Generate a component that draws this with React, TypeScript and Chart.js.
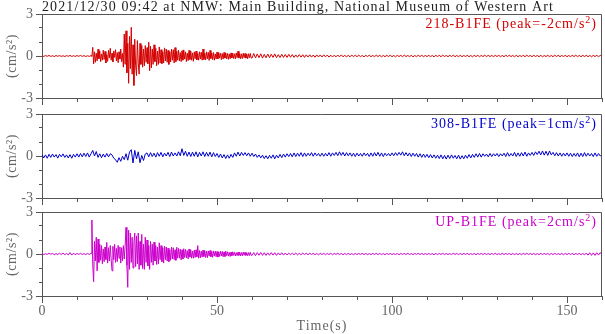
import { useEffect, useRef } from "react";
import { Chart, registerables } from "chart.js";

Chart.register(...registerables);

const titleText = "2021/12/30 09:42 at NMW: Main Building, National Museum of Western Art";
const xLabel = "Time(s)";
const yLabel = "(cm/s\u00B2)";
const xTickLabels = [0, 50, 100, 150];
const yTickLabels = [-3, 0, 3];

const redName = "218-B1FE (peak=-2cm/s";
const blueName = "308-B1FE (peak=1cm/s";
const magentaName = "UP-B1FE (peak=2cm/s";

// sampling: quiet lead-in every 0.5 s (0-13.5 s), strong motion every 0.25 s (14-59.75 s), tail every 0.5 s (60-160 s)
const leadStep = 0.5;
const activeStart = 14;
const activeStep = 0.25;
const tailStart = 60;
const tailStep = 0.5;

// 218-B1FE (cm/s^2)
const redLead = [
  .02,-.03,.03,-.02,.04,-.03,.02,-.04,.03,-.02,.03,-.03,.02,-.04,.03,-.02,.04,-.03,.02,-.03,
  .03,-.02,.04,-.03,.03,-.04,.02,-.03,
];
const redActive = [
  .03,-.02,.62,-.57, .3,-.45,.2,-.35, .48,-.2,.35,-.4, .15,-.3,.42,-.25, .33,-.5,.1,-.38,
  .4,-.15,.55,-.3, .2,-.42,.36,-.1, .45,-.35,.25,-.48, .3,-.22,.5,-.4, .18,-.8,1.57,-.6,
  1.8,-1.2,.9,-1.95, 1.4,-.9,2.05,-1.3, .8,-2.1,1.2,-.7, -1.4,1.1,-.5,-1.3, .9,-.6,.75,-.8,
  .5,-.7,.74,-.45, .6,-.55,.98,-1.05, .7,-.85,.5,-.6, .8,-.4,.55,-.7, .35,-.6,.65,-.5,
  .45,-.55,.3,-.5, .58,-.35,.5,-.45, .4,-.6,.3,-.42, .5,-.3,.45,-.5, .6,-.4,.35,-.3,
  .42,-.35,.25,-.4, .38,-.3,.44,-.22, .3,-.4,.2,-.33, .4,-.25,.35,-.3, .22,-.38,.3,-.2,
  .35,-.28,.18,-.3, .3,-.22,.28,-.3, .5,-.25,.2,-.28, .3,-.2,.26,-.32, .4,-.18,.22,-.26,
  .25,-.3,.15,-.22, .28,-.2,.24,-.15, .2,-.26,.18,-.22, .25,-.15,.22,-.2, .18,-.24,.15,-.2,
  .22,-.14,.2,-.18, .16,-.2,.22,-.12, .35,-.15,.18,-.2, .15,-.18,.2,-.12, .18,-.15,.14,-.2,
  .16,-.12,.18,-.14,
];
const redTail = [
  -.15,.18,-.14,.15,-.12,.16,-.15,.12,-.13,.14,-.12,.13,-.1,.15,-.12,.1,-.11,.12,-.1,.11,
  -.1,.12,-.09,.1,-.1,.08,-.09,.1,-.08,.09,-.1,.08,-.07,.09,-.08,.07,-.09,.08,-.07,.08,
  -.07,.08,-.06,.07,-.08,.06,-.07,.06,-.06,.07,-.06,.08,-.06,.06,-.07,.05,-.06,.07,-.05,.06,
  -.05,.06,-.05,.04,-.06,.05,-.04,.06,-.05,.04,-.05,.06,-.04,.05,-.06,.04,-.05,.05,-.04,.06,
  -.05,.04,-.06,.05,-.04,.05,-.05,.06,-.04,.04,-.05,.05,-.06,.04,-.05,.06,-.04,.05,-.05,.04,
  -.04,.05,-.05,.04,-.06,.05,-.04,.05,-.05,.06,-.04,.04,-.05,.05,-.04,.06,-.05,.04,-.05,.05,
  -.05,.04,-.04,.05,-.05,.04,-.06,.05,-.04,.05,-.05,.04,-.04,.06,-.05,.05,-.04,.04,-.05,.05,
  -.04,.05,-.05,.04,-.05,.06,-.04,.05,-.04,.04,-.06,.05,-.05,.04,-.04,.05,-.05,.06,-.04,.04,
  -.05,.05,-.04,.04,-.05,.05,-.06,.04,-.04,.05,-.05,.04,-.05,.06,-.04,.05,-.05,.04,-.04,.05,
  -.05,.04,-.05,.05,-.04,.06,-.05,.04,-.05,.05,-.04,.05,-.05,.04,-.06,.05,-.04,.05,-.05,.04,
  .03,
];

// 308-B1FE, every 0.5 s from 0 to 160 s
const blueValues = [
  .1,-.14,.08,-.16,.12,-.1,.14,-.08,.1,-.15,.12,-.06,.15,-.1,.08,-.14,.1,-.16,.12,-.08,
  .16,-.08,.18,-.06,.2,-.04,.22,-.08,.16,.4,.0,.32,-.1,.16,-.12,.14,-.08,.18,-.06,.16,
  .08,-.16,-.26,-.45,-.12,-.38,-.02,-.26,.16,-.3,.28,.45,-.5,.4,-.2,.3,-.48,.04,-.32,.14,
  .22,-.06,.24,-.04,.2,-.08,.24,-.02,.26,-.06,.2,.0,.26,-.04,.28,.0,.22,.0,.3,.02,
  .52,.04,.34,-.02,.28,-.04,.28,-.02,.3,-.06,.26,.0,.3,-.04,.26,-.02,.28,-.06,.24,-.04,
  .18,-.1,.14,-.14,.1,-.18,.08,-.16,.12,-.1,.22,-.02,.28,.0,.26,.04,.24,.02,.22,-.02,
  .2,-.04,.14,-.1,.08,-.14,.06,-.18,.02,-.2,.04,-.16,.08,-.2,.06,-.14,.12,-.12,.14,-.08,
  .16,-.04,.18,-.06,.22,-.04,.2,-.02,.24,-.04,.22,-.02,.2,.02,.24,-.02,.22,.02,.18,-.02,
  .2,-.02,.19,.0,.24,-.02,.22,.04,.26,.02,.3,.04,.26,.0,.24,.02,.22,-.02,.2,-.04,
  .2,.0,.18,-.02,.22,.02,.19,-.04,.22,-.02,.24,.0,.26,-.02,.22,-.04,.2,.02,.18,.0,
  .22,.02,.24,.04,.26,.06,.3,.02,.24,.0,.22,-.04,.2,-.02,.18,-.08,.16,-.1,.14,-.1,
  .12,-.12,.1,-.14,.08,-.16,.06,-.18,.08,-.2,.04,-.22,.06,-.18,.08,-.16,.04,-.2,.06,-.22,
  .02,-.2,.06,-.16,.1,-.14,.12,-.1,.16,-.08,.18,-.08,.16,-.02,.14,-.06,.18,-.04,.16,.0,
  .18,-.04,.16,.0,.2,-.04,.24,-.02,.18,.0,.26,-.04,.22,-.02,.24,.0,.28,-.02,.22,.04,
  .26,.04,.3,.1,.34,.08,.36,.06,.34,.04,.36,.08,.26,.02,.24,.0,.22,-.02,.2,.0,
  .22,-.02,.2,-.04,.18,-.02,.22,-.06,.2,-.04,.24,-.02,.2,.0,.18,-.04,.22,-.02,.18,.0,
  .1,
];

// UP-B1FE
const magentaLead = [
  .03,-.04,.02,-.03,.05,-.02,.04,-.05,.03,-.03,.05,-.04,.06,-.05,.04,-.06,.1,-.08,.06,-.05,
  .04,-.03,.05,-.04,.03,-.05,.04,-.03,
];
const magentaActive = [
  .05,2.43,-.8,-1.98, .9,-.5,1.2,-1.2, 1.07,-.6,.7,-.45, .6,-.7,.35,-.55, .5,-.4,.83,-.65,
  .45,-.5,.6,-.35, -1.2,.55,-.4,.7, -.6,.4,-.55,.62, -.3,.5,-.65,.45, -.5,.6,-.35,.55,
  1.9,-.8,-2.38,1.7, -1.1,1.5,-.6,1.2, -1.0,.8,1.5,-.9, 1.3,-.7,1.5,-1.1, .9,-.8,1.4,-1.05,
  .7,-1.1,1.2,-.6, 1.0,-.85,.6,-1.1, .9,-.6,.7,-.8, .85,-.5,.6,-.75, .5,-.7,.8,-.4,
  .6,-.55,.45,-.65, .55,-.4,.5,-.5, .42,-.55,.3,-.45, .5,-.35,.45,-.4, .3,-.45,.48,-.3,
  .4,-.3,.35,-.42, .3,-.35,.38,-.25, .32,-.28,.25,-.35, .35,-.22,.3,-.3, .2,-.3,.28,-.25,
  .3,-.2,.6,-.3, .25,-.28,.2,-.22, .28,-.18,.24,-.25, .2,-.26,.22,-.15, .25,-.2,.18,-.24,
  .22,-.15,.2,-.2, .18,-.22,.15,-.18, .2,-.14,.18,-.2, .15,-.18,.2,-.12, .16,-.15,.12,-.18,
  .14,-.12,.16,-.1, .12,-.14,.1,-.12, .13,-.1,.12,-.14, .1,-.12,.14,-.09, .12,-.1,.09,-.12,
  .1,-.11,.12,-.08,
];
const magentaTail = [
  -.11,.1,-.12,.1,-.09,.11,-.1,.09,-.1,.08,-.09,.1,-.08,.09,-.1,.08,-.07,.09,-.08,.07,
  -.07,.06,-.06,.07,-.05,.06,-.06,.05,-.05,.06,-.04,.05,-.05,.06,-.04,.05,-.05,.04,-.06,.05,
  -.04,.05,-.05,.04,-.04,.05,-.05,.04,-.03,.05,-.04,.04,-.05,.04,-.04,.05,-.04,.03,-.05,.04,
  -.04,.04,-.03,.05,-.04,.04,-.05,.03,-.04,.04,-.03,.05,-.04,.04,-.04,.03,-.05,.04,-.03,.04,
  -.04,.03,-.04,.04,-.05,.04,-.03,.04,-.04,.05,-.04,.03,-.04,.04,-.03,.05,-.04,.04,-.04,.03,
  -.03,.04,-.04,.03,-.05,.04,-.04,.04,-.03,.05,-.04,.04,-.04,.03,-.04,.05,-.03,.04,-.04,.04,
  -.04,.04,-.03,.05,-.04,.03,-.04,.04,-.05,.04,-.03,.04,-.04,.05,-.04,.03,-.04,.04,-.03,.05,
  -.04,.03,-.04,.05,-.04,.04,-.03,.04,-.05,.04,-.04,.03,-.04,.04,-.05,.04,-.03,.05,-.04,.04,
  -.04,.04,-.05,.03,-.04,.05,-.04,.04,-.03,.04,-.05,.04,-.04,.05,-.04,.03,-.04,.04,-.05,.04,
  -.04,.05,-.04,.04,-.05,.04,-.04,.05,-.05,.04,-.06,.07,-.08,.09,-.1,.08,-.1,.09,-.08,.1,
  -.06,
];

const FONT = "'Liberation Serif', 'Times New Roman', serif";
const AXIS = "#555";
const TEXT = "#666";

type Pt = { x: number; y: number };

function segment(values: number[], start: number, step: number): Pt[] {
  return values.map((v, i) => ({ x: start + i * step, y: v }));
}

const redPoints = [...segment(redLead, 0, leadStep), ...segment(redActive, activeStart, activeStep), ...segment(redTail, tailStart, tailStep)];
const bluePoints = segment(blueValues, 0, 0.5);
const magentaPoints = [
  ...segment(magentaLead, 0, leadStep),
  ...segment(magentaActive, activeStart, activeStep),
  ...segment(magentaTail, tailStart, tailStep),
];

type PanelSpec = {
  points: Pt[];
  color: string;
  name: string;
  top: number;
  height: number;
  bottomAxis: boolean;
  title: boolean;
};

const panels: PanelSpec[] = [
  { points: redPoints, color: "#d40000", name: redName, top: 0, height: 112, bottomAxis: false, title: true },
  { points: bluePoints, color: "#0000cc", name: blueName, top: 100, height: 112, bottomAxis: false, title: false },
  { points: magentaPoints, color: "#cc00cc", name: magentaName, top: 198, height: 136, bottomAxis: true, title: false },
];

function setSpacing(ctx: CanvasRenderingContext2D, s: string) {
  (ctx as any).letterSpacing = s;
}

function makeChart(canvas: HTMLCanvasElement, p: PanelSpec) {
  const decor = {
    id: "decor",
    afterDraw(chart: any) {
      const ctx = chart.ctx as CanvasRenderingContext2D;
      const a = chart.chartArea;
      const xs = chart.scales.x;
      const ys = chart.scales.y;
      ctx.save();
      ctx.strokeStyle = AXIS;
      ctx.lineWidth = 1;
      ctx.beginPath();
      ctx.moveTo(a.left, a.top + 0.5);
      ctx.lineTo(a.right - 0.5, a.top + 0.5);
      ctx.lineTo(a.right - 0.5, a.bottom);
      for (const v of xTickLabels) {
        const x = Math.round(xs.getPixelForValue(v)) + 0.5;
        ctx.moveTo(x, a.bottom);
        ctx.lineTo(x, a.bottom + 7);
      }
      for (const v of yTickLabels) {
        const y = Math.round(ys.getPixelForValue(v)) + 0.5;
        ctx.moveTo(a.left, y);
        ctx.lineTo(a.left - 6, y);
      }
      ctx.stroke();

      const big = `14px ${FONT}`;
      const small = `10px ${FONT}`;
      ctx.textBaseline = "alphabetic";
      ctx.textAlign = "left";
      setSpacing(ctx, "1px");

      // series label with superscript
      ctx.fillStyle = p.color;
      ctx.font = big;
      const w1 = ctx.measureText(p.name).width;
      const w3 = ctx.measureText(")").width;
      ctx.font = small;
      const w2 = ctx.measureText("2").width;
      const right = a.right - 5;
      const base = a.top + 14;
      const x0 = right - w1 - w2 - w3;
      ctx.font = big;
      ctx.fillText(p.name, x0, base);
      ctx.font = small;
      ctx.fillText("2", x0 + w1, base - 5);
      ctx.font = big;
      ctx.fillText(")", x0 + w1 + w2, base);

      // y-axis label
      ctx.save();
      ctx.fillStyle = TEXT;
      ctx.font = big;
      setSpacing(ctx, "0.6px");
      ctx.translate(12, (a.top + a.bottom) / 2);
      ctx.rotate(-Math.PI / 2);
      ctx.textAlign = "center";
      ctx.textBaseline = "middle";
      ctx.fillText(yLabel, 0, 0);
      ctx.restore();

      if (p.bottomAxis) {
        ctx.fillStyle = TEXT;
        ctx.font = big;
        ctx.textAlign = "center";
        ctx.fillText(xLabel, (a.left + a.right) / 2, a.bottom + 34);
        ctx.textAlign = "left";
      }

      if (p.title) {
        ctx.fillStyle = "#222";
        ctx.font = big;
        setSpacing(ctx, "1.1px");
        ctx.fillText(titleText, a.left, 11);
      }
      setSpacing(ctx, "0px");
      ctx.restore();
    },
  };

  return new Chart(canvas, {
    type: "line",
    data: {
      datasets: [
        {
          data: p.points,
          borderColor: p.color,
          borderWidth: 1,
          pointRadius: 0,
          tension: 0,
          fill: false,
        },
      ],
    },
    options: {
      responsive: false,
      animation: false,
      devicePixelRatio: 1,
      parsing: false as any,
      normalized: true,
      layout: { padding: { top: 14, right: 1, left: 0, bottom: 0 } },
      plugins: { legend: { display: false }, tooltip: { enabled: false }, title: { display: false } },
      events: [],
      scales: {
        x: {
          type: "linear",
          min: 0,
          max: 160,
          afterFit: (s: any) => {
            s.height = p.bottomAxis ? 38 : 14;
          },
          ticks: {
            stepSize: 10,
            autoSkip: false,
            maxRotation: 0,
            padding: 3,
            color: TEXT,
            font: { family: FONT, size: 14 },
            callback: (v: any) => (p.bottomAxis && xTickLabels.includes(Number(v)) ? String(v) : ""),
          },
          grid: { drawOnChartArea: false, drawTicks: true, tickLength: 4, color: AXIS },
          border: { display: true, color: AXIS },
          title: { display: false },
        },
        y: {
          type: "linear",
          min: -3,
          max: 3,
          afterFit: (s: any) => {
            s.width = 42;
          },
          ticks: {
            stepSize: 1,
            autoSkip: false,
            padding: 6,
            color: TEXT,
            font: { family: FONT, size: 14, lineHeight: 1 },
            callback: (v: any) => (yTickLabels.includes(Number(v)) ? String(v) : ""),
          },
          grid: { drawOnChartArea: false, drawTicks: true, tickLength: 3, color: AXIS },
          border: { display: true, color: AXIS },
          title: { display: false },
        },
      },
    },
    plugins: [decor],
  } as any);
}

export default function App() {
  const refs = [useRef<HTMLCanvasElement>(null), useRef<HTMLCanvasElement>(null), useRef<HTMLCanvasElement>(null)];
  useEffect(() => {
    const charts = panels.map((p, i) => makeChart(refs[i].current as HTMLCanvasElement, p));
    return () => charts.forEach((c) => c.destroy());
  }, []);
  return (
    <div style={{ position: "absolute", left: 0, top: 0, width: 605, height: 334, background: "#fff" }}>
      {panels.map((p, i) => (
        <canvas
          key={i}
          ref={refs[i]}
          width={605}
          height={p.height}
          style={{ position: "absolute", left: 0, top: p.top, width: 605, height: p.height }}
        />
      ))}
    </div>
  );
}
